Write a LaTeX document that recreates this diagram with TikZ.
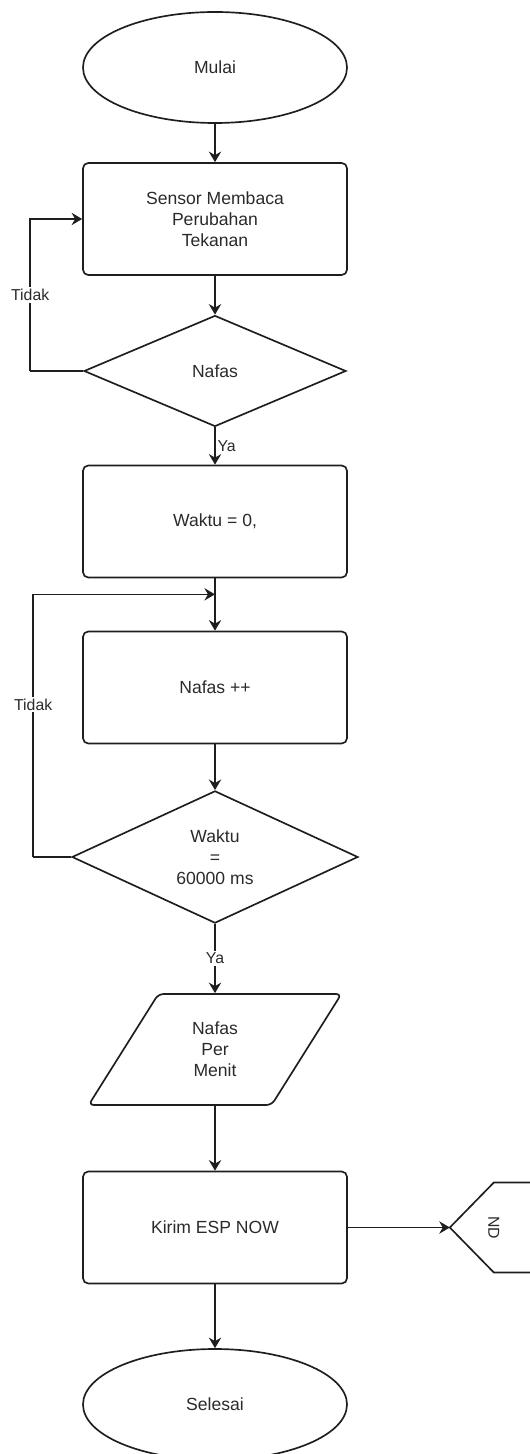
\documentclass[tikz,border=0pt]{standalone}
\usepackage{fontspec}
\setmainfont{Liberation Sans}
\usetikzlibrary{positioning,shapes.geometric,arrows.meta}
\definecolor{ink}{HTML}{1E1E1E}
\definecolor{txt}{HTML}{2A2A2A}

\begin{document}
\begin{tikzpicture}[-{Stealth[length=6pt,width=7pt,inset=2pt]}, node distance =3cm, on grid,
line width=0.95pt, draw=ink,
terminal/.style ={ellipse, draw=ink, text=txt, minimum width=5.28cm, minimum height=2.22cm, font=\fontsize{10}{12}\selectfont},
process/.style ={rectangle, rounded corners=3pt, draw=ink, text=txt, align=center, minimum width=5.28cm, minimum height=2.24cm, font=\fontsize{10}{12}\selectfont},
decision/.style ={diamond, draw=ink, text=txt, align=center, inner sep=0pt, minimum width=5.24cm, minimum height=2.22cm, font=\fontsize{10}{12}\selectfont},
io/.style ={trapezium, trapezium left angle=62, trapezium right angle=118, trapezium stretches=true, rounded corners=3pt, draw=ink, text=txt, align=center, minimum width=5.08cm, minimum height=2.22cm, font=\fontsize{10}{12}\selectfont},
offtext/.style ={text=txt, rotate=-90, inner sep=1pt, font=\fontsize{9}{11}\selectfont},
lbl/.style ={text=txt, fill=white, inner sep=1pt, font=\fontsize{9}{11}\selectfont}]
\useasboundingbox (0,0) rectangle (10.58,-29.08);
\node[terminal] (start) at (4.3,-1.35) {Mulai};
\node[process] (read) [below=3.03cm of start] {Sensor Membaca\\Perubahan\\Tekanan};
\node[decision] (dec1) [below=3.04cm of read] {Nafas};
\node[process] (init) [below=3.01cm of dec1] {Waktu = 0,};
\node[process] (incr) [below=3.32cm of init] {Nafas ++};
\node[decision, minimum width=5.72cm, minimum height=2.56cm] (dec2) [below=3.39cm of incr] {Waktu\\=\\60000 ms};
\node[io] (out) [below=3.85cm of dec2] {Nafas\\Per\\Menit};
\node[process] (send) [below=3.56cm of out] {Kirim ESP NOW};
\node[terminal] (stop) [below=3.54cm of send] {Selesai};
% off-page connector, cut by the right edge
\node[offtext] (nd) at ([xshift=2.92cm]send.east) {ND};
\coordinate (ndtip) at ([xshift=-0.88cm]nd.center);
\draw[-, line join=miter] ([xshift=1.2cm,yshift=0.9cm]nd.center) -- ([yshift=0.9cm]nd.center) -- (ndtip)
  -- ([yshift=-0.9cm]nd.center) -- ([xshift=1.2cm,yshift=-0.9cm]nd.center);
\coordinate (loop1) at ([xshift=-1.06cm]dec1.west);
\coordinate (loop2) at ([xshift=-0.76cm]dec2.west);
\coordinate (join) at ([yshift=-0.32cm]init.south);
\draw (start) -- (read);
\draw (read) -- (dec1);
\draw (dec1) -- node[lbl, right, fill=none] {Ya} (init);
\draw[-] (dec1.west) -- (loop1);
\draw (loop1) |- node[lbl, pos=0.25] {Tidak} (read.west);
\draw (init) -- (incr);
\draw (incr) -- (dec2);
\draw[-] (dec2.west) -- (loop2);
\draw (loop2) |- node[lbl, pos=0.29] {Tidak} (join);
\draw (dec2) -- node[lbl] {Ya} (out);
\draw (out) -- (send);
\draw (send) -- (ndtip);
\draw (send) -- (stop);
\end{tikzpicture}
\end{document}
